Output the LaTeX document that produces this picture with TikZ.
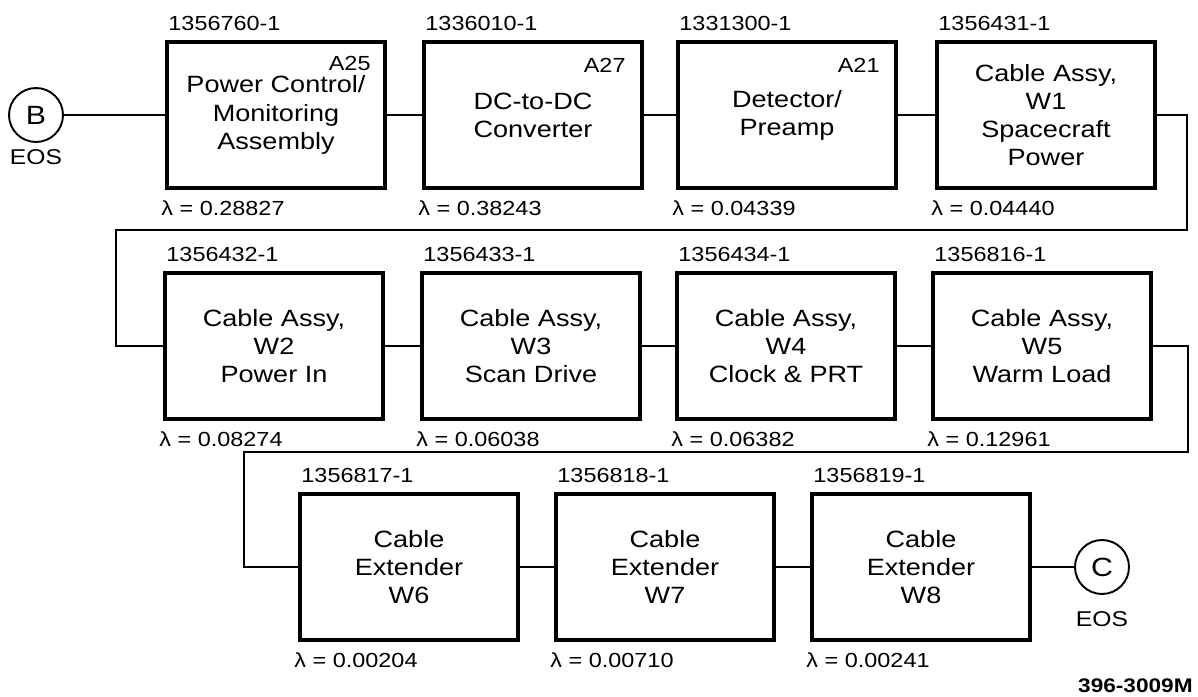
\documentclass[tikz,border=0pt]{standalone}
\usepackage{fontspec}
\setmainfont{Liberation Sans}[FakeStretch=1.15]
\usetikzlibrary{positioning}

\begin{document}
\begin{tikzpicture}[x=0.02cm,y=-0.02cm,
  blk/.style={draw,line width=2.2pt,minimum width=4.36cm,minimum height=2.92cm,
    inner sep=0pt,align=center,font=\fontsize{13.4}{16}\selectfont},
  pn/.style={anchor=base west,inner sep=0pt,font=\fontsize{11.6}{13}\selectfont},
  anum/.style={anchor=north east,inner sep=0pt,font=\fontsize{11.6}{13}\selectfont},
  conn/.style={draw,circle,line width=1.1pt,minimum size=1.08cm,inner sep=0pt,
    font=\fontsize{15}{17}\selectfont},
  eos/.style={anchor=base,inner sep=0pt,font=\fontsize{12.2}{14}\selectfont},
  wire/.style={line width=1.1pt}]
\useasboundingbox (0,0) rectangle (1198,697);

% row 1
\node[conn] (B) at (36,115) {B};
\node[eos] at ([yshift=-0.44cm]B.south) {EOS};
\node[blk] (b1) at (276,115) {Power Control/\\Monitoring\\Assembly};
\node[blk] (b2) at (533,115) {DC-to-DC\\Converter};
\node[blk] (b3) at (787,115) {Detector/\\Preamp};
\node[blk] (b4) at (1046,115) {Cable Assy,\\W1\\Spacecraft\\Power};
\node[anum] at ([xshift=-0.32cm,yshift=-0.32cm]b1.north east) {A25};
\node[anum] at ([xshift=-0.36cm,yshift=-0.36cm]b2.north east) {A27};
\node[anum] at ([xshift=-0.36cm,yshift=-0.36cm]b3.north east) {A21};

% row 2
\node[blk] (b5) at (274,346) {Cable Assy,\\W2\\Power In};
\node[blk] (b6) at (531,346) {Cable Assy,\\W3\\Scan Drive};
\node[blk] (b7) at (786,346) {Cable Assy,\\W4\\Clock \& PRT};
\node[blk] (b8) at (1042,346) {Cable Assy,\\W5\\Warm Load};

% row 3
\node[blk] (b9) at (409,567) {Cable\\Extender\\W6};
\node[blk] (b10) at (665,567) {Cable\\Extender\\W7};
\node[blk] (b11) at (921,567) {Cable\\Extender\\W8};
\node[conn] (C) at (1102,567) {C};
\node[eos] at ([yshift=-0.64cm]C.south) {EOS};

% part numbers and failure rates
\foreach \nm/\pno/\lam in {b1/1356760-1/0.28827, b2/1336010-1/0.38243,
  b3/1331300-1/0.04339, b4/1356431-1/0.04440, b5/1356432-1/0.08274,
  b6/1356433-1/0.06038, b7/1356434-1/0.06382, b8/1356816-1/0.12961,
  b9/1356817-1/0.00204, b10/1356818-1/0.00710, b11/1356819-1/0.00241}
  {\node[pn] at ([xshift=0.06cm,yshift=0.2cm]\nm.north west) {\pno};
   \node[pn] at ([xshift=-0.08cm,yshift=-0.52cm]\nm.south west) {λ = \lam};}

\draw[wire] (B) -- (b1);
\draw[wire] (b1) -- (b2);
\draw[wire] (b2) -- (b3);
\draw[wire] (b3) -- (b4);
\coordinate (r1) at (1187,230);
\coordinate (l1) at (116,230);
\draw[wire] (b4.east) -| (r1) -- (l1) |- (b5.west);
\draw[wire] (b5) -- (b6);
\draw[wire] (b6) -- (b7);
\draw[wire] (b7) -- (b8);
\coordinate (r2) at (1188,452);
\coordinate (l2) at (244,452);
\draw[wire] (b8.east) -| (r2) -- (l2) |- (b9.west);
\draw[wire] (b9) -- (b10);
\draw[wire] (b10) -- (b11);
\draw[wire] (b11) -- (C);

\node[anchor=base east,inner sep=0pt,font=\bfseries\fontsize{11.2}{13}\selectfont]
  (dwg) at (1193,692) {396-3009M};
\end{tikzpicture}
\end{document}
